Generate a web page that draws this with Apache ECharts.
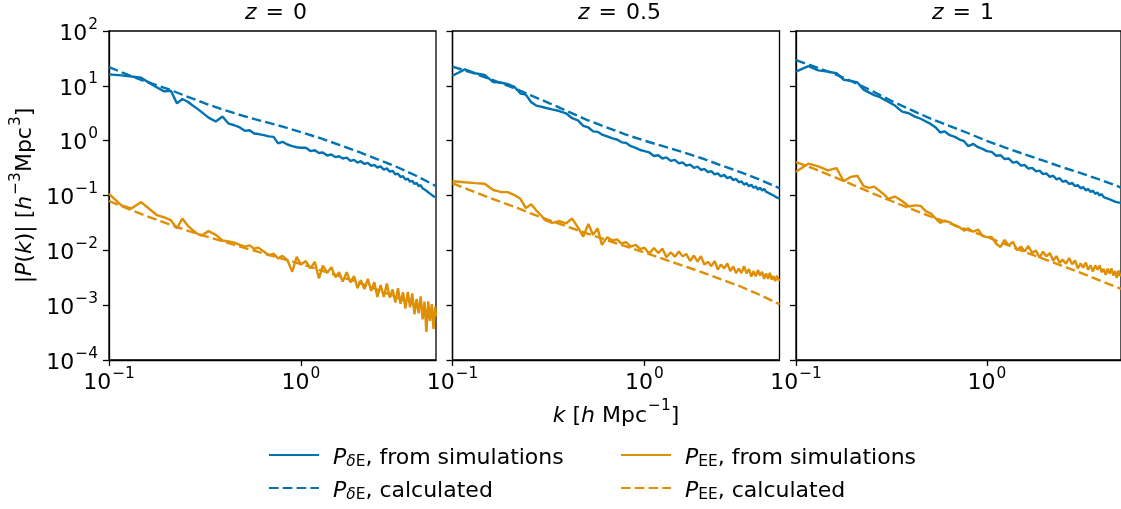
<!DOCTYPE html>
<html>
<head>
<meta charset="utf-8">
<script src="https://cdn.jsdelivr.net/npm/echarts@6/dist/echarts.min.js"></script>
<style>
  html, body { margin: 0; padding: 0; background: #fff; }
  #chart { width: 1121px; height: 509px; }
</style>
</head>
<body>
<div id="chart"></div>
<script>
// Wavenumbers of the simulation power-spectrum bins [h/Mpc]
const kSim = [0.100, 0.116, 0.131, 0.147, 0.163, 0.178, 0.194, 0.210, 0.226, 0.241,
  0.257, 0.273, 0.289, 0.304, 0.330, 0.360, 0.390, 0.420, 0.450, 0.480,
  0.510, 0.540, 0.570, 0.600, 0.640, 0.680, 0.720, 0.760, 0.800, 0.850,
  0.900, 0.950, 1.000, 1.06, 1.12, 1.18, 1.24, 1.30, 1.37, 1.44,
  1.51, 1.58, 1.65, 1.73, 1.81, 1.89, 1.97, 2.05, 2.14, 2.23,
  2.32, 2.41, 2.50, 2.60, 2.70, 2.80, 2.90, 3.00, 3.10, 3.20,
  3.30, 3.40, 3.50, 3.60, 3.70, 3.80, 3.90, 4.00, 4.10, 4.20,
  4.30, 4.40, 4.50, 4.60, 4.70, 4.80, 4.90, 5.00, 5.05];

// Wavenumbers where the model spectra are evaluated [h/Mpc]
const kCalc = [0.1, 0.126, 0.158, 0.2, 0.251, 0.316, 0.398, 0.501, 0.631, 0.794,
  1.0, 1.26, 1.58, 2.0, 2.51, 3.16, 3.98, 5.01, 5.05];

// z = 0
const dE_sim_z0 = [16.2, 15.5, 14.8, 14.1, 11.2, 9.33, 7.94, 8.13, 4.79, 5.75,
  5.13, 4.37, 3.80, 3.31, 2.63, 2.24, 2.75, 2.04, 1.91, 1.74,
  1.51, 1.55, 1.35, 1.32, 1.26, 1.20, 1.17, 0.891, 0.955, 0.851,
  0.794, 0.759, 0.741, 0.741, 0.646, 0.668, 0.596, 0.610, 0.537, 0.562,
  0.501, 0.519, 0.473, 0.490, 0.427, 0.447, 0.398, 0.422, 0.376, 0.394,
  0.347, 0.363, 0.324, 0.339, 0.295, 0.313, 0.272, 0.282, 0.243, 0.251,
  0.216, 0.226, 0.195, 0.204, 0.178, 0.186, 0.162, 0.170, 0.148, 0.155,
  0.135, 0.141, 0.122, 0.126, 0.108, 0.112, 0.0966, 0.0977, 0.0933];
const EE_sim_z0 = [0.107, 0.0661, 0.0582, 0.0759, 0.0562, 0.0437, 0.0398, 0.0355, 0.0251, 0.0380,
  0.0282, 0.0234, 0.0200, 0.0186, 0.0224, 0.0191, 0.0151, 0.0145, 0.0138, 0.0126,
  0.0117, 0.0123, 0.0107, 0.0112, 0.00955, 0.00813, 0.00871, 0.00708, 0.00794, 0.00661,
  0.00407, 0.00759, 0.00550, 0.00638, 0.00468, 0.00617, 0.00309, 0.00525, 0.00389, 0.00490,
  0.00324, 0.00398, 0.00269, 0.00398, 0.00260, 0.00339, 0.00204, 0.00285, 0.00197, 0.00302,
  0.00182, 0.00263, 0.00141, 0.00232, 0.00141, 0.00248, 0.00138, 0.00193, 0.00112, 0.00204,
  0.00106, 0.00172, 0.000871, 0.00174, 0.000912, 0.00164, 0.000684, 0.00130, 0.000708, 0.00145,
  0.000550, 0.00116, 0.000324, 0.00117, 0.000519, 0.00105, 0.000367, 0.000933, 0.000617];
const dE_calc_z0 = [21.9, 15.8, 11.7, 8.91, 6.53, 4.79, 3.63, 2.82, 2.26, 1.82,
  1.43, 1.11, 0.841, 0.624, 0.457, 0.331, 0.229, 0.151, 0.148];
const EE_calc_z0 = [0.0794, 0.0569, 0.0417, 0.0309, 0.0234, 0.0182, 0.0143, 0.0112, 0.00891, 0.00708,
  0.00562, 0.00437, 0.00339, 0.00257, 0.00191, 0.00138, 0.000977, 0.000661, 0.000646];

// z = 0.5
const dE_sim_z05 = [15.3, 20.0, 17.0, 15.8, 11.7, 11.5, 10.7, 9.55, 7.24, 6.92,
  5.01, 4.37, 4.17, 3.98, 3.72, 3.47, 3.16, 2.57, 2.34, 1.86,
  1.74, 1.48, 1.45, 1.29, 1.20, 1.10, 1.05, 0.933, 0.912, 0.794,
  0.741, 0.676, 0.646, 0.610, 0.525, 0.543, 0.473, 0.495, 0.427, 0.447,
  0.385, 0.403, 0.351, 0.367, 0.320, 0.335, 0.292, 0.305, 0.266, 0.279,
  0.243, 0.254, 0.224, 0.237, 0.207, 0.219, 0.191, 0.200, 0.174, 0.182,
  0.158, 0.168, 0.148, 0.157, 0.138, 0.146, 0.129, 0.138, 0.123, 0.132,
  0.117, 0.124, 0.108, 0.115, 0.100, 0.105, 0.0912, 0.0933, 0.0891];
const EE_sim_z05 = [0.182, 0.174, 0.168, 0.164, 0.126, 0.116, 0.115, 0.102, 0.0871, 0.0589,
  0.0692, 0.0537, 0.0437, 0.0355, 0.0316, 0.0339, 0.0309, 0.0380, 0.0263, 0.0178,
  0.0302, 0.0191, 0.0251, 0.0126, 0.0174, 0.0151, 0.0158, 0.0132, 0.0141, 0.0117,
  0.0126, 0.0105, 0.0112, 0.00871, 0.0110, 0.00891, 0.0108, 0.00750, 0.00923, 0.00767,
  0.00955, 0.00776, 0.00861, 0.00638, 0.00804, 0.00624, 0.00785, 0.00550, 0.00617, 0.00513,
  0.00638, 0.00447, 0.00550, 0.00468, 0.00575, 0.00417, 0.00507, 0.00385, 0.00462, 0.00385,
  0.00513, 0.00380, 0.00457, 0.00331, 0.00417, 0.00335, 0.00437, 0.00347, 0.00407, 0.00302,
  0.00380, 0.00302, 0.00389, 0.00292, 0.00339, 0.00275, 0.00347, 0.00282, 0.00302];
const dE_calc_z05 = [22.4, 17.4, 13.2, 9.66, 6.92, 4.90, 3.43, 2.40, 1.76, 1.30,
  1.00, 0.785, 0.617, 0.473, 0.355, 0.266, 0.195, 0.138, 0.135];
const EE_calc_z05 = [0.166, 0.122, 0.0891, 0.0661, 0.0484, 0.0359, 0.0269, 0.0204, 0.0155, 0.0119,
  0.00912, 0.00692, 0.00525, 0.00398, 0.00295, 0.00219, 0.00155, 0.00105, 0.00102];

// z = 1
const dE_sim_z1 = [18.2, 22.9, 19.1, 18.2, 17.0, 12.9, 12.3, 11.5, 8.51, 7.59,
  6.76, 6.31, 5.62, 5.13, 4.37, 3.39, 3.16, 2.75, 2.51, 2.24,
  2.00, 1.74, 1.41, 1.48, 1.26, 1.17, 1.05, 0.977, 0.794, 0.871,
  0.759, 0.708, 0.646, 0.624, 0.531, 0.543, 0.462, 0.473, 0.398, 0.412,
  0.351, 0.359, 0.309, 0.320, 0.275, 0.285, 0.245, 0.254, 0.219, 0.229,
  0.197, 0.207, 0.178, 0.186, 0.162, 0.170, 0.148, 0.155, 0.135, 0.143,
  0.124, 0.132, 0.116, 0.123, 0.107, 0.114, 0.100, 0.106, 0.0933, 0.100,
  0.0881, 0.0933, 0.0822, 0.0881, 0.0776, 0.0832, 0.0741, 0.0776, 0.0741];
const EE_sim_z1 = [0.272, 0.380, 0.339, 0.288, 0.316, 0.182, 0.219, 0.229, 0.148, 0.138,
  0.145, 0.123, 0.105, 0.0871, 0.0955, 0.0794, 0.0631, 0.0661, 0.0646, 0.0513,
  0.0468, 0.0380, 0.0316, 0.0347, 0.0324, 0.0282, 0.0263, 0.0229, 0.0251, 0.0219,
  0.0240, 0.0182, 0.0174, 0.0176, 0.0132, 0.0115, 0.0155, 0.0123, 0.0143, 0.0100,
  0.0117, 0.00955, 0.0120, 0.00891, 0.00989, 0.00733, 0.00944, 0.00776, 0.00891, 0.00646,
  0.00785, 0.00589, 0.00676, 0.00569, 0.00724, 0.00556, 0.00653, 0.00468, 0.00575, 0.00484,
  0.00596, 0.00442, 0.00531, 0.00412, 0.00531, 0.00442, 0.00531, 0.00398, 0.00457, 0.00355,
  0.00462, 0.00376, 0.00468, 0.00347, 0.00417, 0.00313, 0.00427, 0.00339, 0.00372];
const dE_calc_z1 = [29.5, 22.1, 16.6, 11.7, 8.04, 5.31, 3.67, 2.57, 1.88, 1.38,
  0.989, 0.741, 0.562, 0.427, 0.324, 0.251, 0.191, 0.141, 0.138];
const EE_calc_z1 = [0.407, 0.302, 0.219, 0.155, 0.110, 0.0794, 0.0575, 0.0422, 0.0316, 0.0237,
  0.0176, 0.0129, 0.00933, 0.00692, 0.00513, 0.00380, 0.00275, 0.00200, 0.00195];

const panelTitles = ['0', '0.5', '1'];
const xTicks = [0.1, 1];
const yTicks = [1e-4, 1e-3, 1e-2, 1e-1, 1, 10, 100];

const panels = [
  { dSim: dE_sim_z0, dCalc: dE_calc_z0, eSim: EE_sim_z0, eCalc: EE_calc_z0 },
  { dSim: dE_sim_z05, dCalc: dE_calc_z05, eSim: EE_sim_z05, eCalc: EE_calc_z05 },
  { dSim: dE_sim_z1, dCalc: dE_calc_z1, eSim: EE_sim_z1, eCalc: EE_calc_z1 }
];

const NAME_D_SIM = 'PδE, from simulations';
const NAME_D_CALC = 'PδE, calculated';
const NAME_E_SIM = 'PEE, from simulations';
const NAME_E_CALC = 'PEE, calculated';

const BLUE = '#0173B2';
const ORANGE = '#DE8F05';
const FONT = 'DejaVu Sans';
const FS = 22;
const FS_SMALL = 15.4;
const LH = 28;
const LW = 2.4;
const DASH = [9.6, 4.2];

const richText = {
  b: { fontFamily: FONT, fontSize: FS, color: '#000', lineHeight: LH, verticalAlign: 'bottom' },
  t: { fontFamily: FONT, fontSize: FS, color: '#000', lineHeight: LH, verticalAlign: 'bottom' },
  i: { fontFamily: FONT, fontSize: FS, fontStyle: 'italic', color: '#000', lineHeight: LH, verticalAlign: 'bottom' },
  s: { fontFamily: FONT, fontSize: FS_SMALL, color: '#000', lineHeight: 17, verticalAlign: 'top', padding: [0, 0, 0, 1] },
  u: { fontFamily: FONT, fontSize: FS_SMALL, color: '#000', lineHeight: 14, verticalAlign: 'bottom' },
  ui: { fontFamily: FONT, fontSize: FS_SMALL, fontStyle: 'italic', color: '#000', lineHeight: 14, verticalAlign: 'bottom' },
  g: { width: 9 }
};

function powLabel(v) {
  const e = Math.round(Math.log10(v));
  return '{b|10}{s|' + (e < 0 ? '\u2212' + (-e) : String(e)) + '}';
}

const geo = [
  { left: 109, top: 31, width: 327, height: 329 },
  { left: 452.5, top: 31, width: 327, height: 329 },
  { left: 796, top: 31, width: 327, height: 329 }
];

const grids = geo.map(g => ({
  left: g.left, top: g.top, width: g.width, height: g.height,
  show: true, borderColor: '#000', borderWidth: 1.3, backgroundColor: 'transparent',
  containLabel: false
}));

const xAxes = geo.map((g, i) => ({
  type: 'log', logBase: 10, gridIndex: i, min: 0.1, max: 5.05,
  axisLine: { show: true, lineStyle: { color: '#000', width: 1.3 } },
  splitLine: { show: false },
  minorTick: { show: false },
  axisTick: { show: true, inside: false, length: 6, customValues: xTicks, lineStyle: { color: '#000', width: 1.3 } },
  axisLabel: { show: true, customValues: xTicks, margin: 6, formatter: powLabel, rich: richText },
  name: i === 1 ? '{i|k}{t| [}{i|h}{t| Mpc}{s|\u22121}{t|]}' : '',
  nameLocation: 'middle', nameGap: 37,
  nameTextStyle: { rich: richText }
}));

const yAxes = geo.map((g, i) => ({
  type: 'log', logBase: 10, gridIndex: i, min: 1e-4, max: 100,
  axisLine: { show: true, lineStyle: { color: '#000', width: 1.3 } },
  splitLine: { show: false },
  minorTick: { show: false },
  axisTick: { show: true, inside: false, length: 6, customValues: yTicks, lineStyle: { color: '#000', width: 1.3 } },
  axisLabel: { show: i === 0, customValues: yTicks, margin: 11, formatter: powLabel, rich: richText },
  name: i === 0 ? '{t||}{i|P}{t|(}{i|k}{t|)| [}{i|h}{s|\u22123}{t|Mpc}{s|3}{t|]}' : '',
  nameLocation: 'middle', nameGap: 73, nameRotate: 90,
  nameTextStyle: { rich: richText }
}));

function pairs(ks, vs) { return ks.map((k, j) => [k, vs[j]]); }

const series = [];
panels.forEach((p, i) => {
  const common = { type: 'line', xAxisIndex: i, yAxisIndex: i, symbol: 'none', showSymbol: false, animation: false, clip: true };
  series.push(Object.assign({}, common, { name: NAME_D_SIM, data: pairs(kSim, p.dSim), lineStyle: { color: BLUE, width: LW }, itemStyle: { color: BLUE } }));
  series.push(Object.assign({}, common, { name: NAME_D_CALC, data: pairs(kCalc, p.dCalc), lineStyle: { color: BLUE, width: LW, type: DASH }, itemStyle: { color: BLUE } }));
  series.push(Object.assign({}, common, { name: NAME_E_SIM, data: pairs(kSim, p.eSim), lineStyle: { color: ORANGE, width: LW }, itemStyle: { color: ORANGE } }));
  series.push(Object.assign({}, common, { name: NAME_E_CALC, data: pairs(kCalc, p.eCalc), lineStyle: { color: ORANGE, width: LW, type: DASH }, itemStyle: { color: ORANGE } }));
});

const legendLabels = {};
legendLabels[NAME_D_SIM] = '{g|}{i|P}{ui|δ}{u|E}{t|, from simulations}';
legendLabels[NAME_D_CALC] = '{g|}{i|P}{ui|δ}{u|E}{t|, calculated}';
legendLabels[NAME_E_SIM] = '{g|}{i|P}{u|EE}{t|, from simulations}';
legendLabels[NAME_E_CALC] = '{g|}{i|P}{u|EE}{t|, calculated}';

function legendFor(names, left) {
  return {
    data: names, left: left, top: 447, orient: 'vertical',
    itemWidth: 50, itemHeight: 14, itemGap: 11, padding: 0,
    selectedMode: false,
    itemStyle: { opacity: 0 },
    formatter: n => legendLabels[n],
    textStyle: { rich: richText }
  };
}

const titleRich = {
  i: { fontFamily: FONT, fontSize: FS, fontStyle: 'italic', fill: '#000' },
  t: { fontFamily: FONT, fontSize: FS, fill: '#000' },
  sp: { width: 2 }
};

const titles = panelTitles.map((z, i) => ({
  type: 'text',
  x: geo[i].left + geo[i].width / 2 + 3.5,
  y: 13,
  style: {
    text: '{i|z}{sp|}{t| = }{sp|}{t|' + z + '}',
    rich: titleRich,
    align: 'center', verticalAlign: 'middle'
  }
}));

const chart = echarts.init(document.getElementById('chart'), null, { renderer: 'canvas' });
chart.setOption({
  backgroundColor: '#fff',
  animation: false,
  textStyle: { fontFamily: FONT },
  grid: grids,
  xAxis: xAxes,
  yAxis: yAxes,
  legend: [legendFor([NAME_D_SIM, NAME_D_CALC], 268), legendFor([NAME_E_SIM, NAME_E_CALC], 620)],
  graphic: titles,
  series: series
});
</script>
</body>
</html>
